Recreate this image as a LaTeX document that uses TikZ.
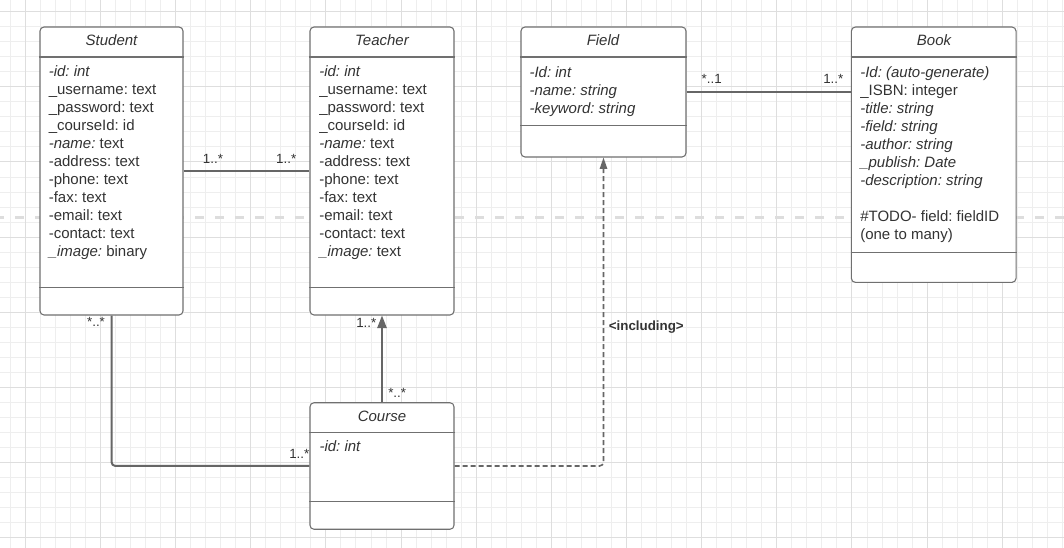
\documentclass[tikz,border=0pt]{standalone}
\usepackage{fontspec}
\setmainfont{Liberation Sans}
\usetikzlibrary{arrows.meta,positioning}
\definecolor{rand}{HTML}{707070}
\definecolor{schrift}{HTML}{333333}
\definecolor{linie}{HTML}{666666}
\definecolor{netzfein}{HTML}{EEEEEE}
\definecolor{netzgrob}{HTML}{DEDEDE}
\definecolor{seite}{HTML}{DDDDDD}

\begin{document}
\frenchspacing
\begin{tikzpicture}[x=0.75pt,y=-0.75pt,
      klasse/.style={rectangle, draw=rand, fill=white, rounded corners=3pt, line width=0.8pt, inner sep=0pt},
      titel/.style={anchor=base, inner sep=0pt, text=schrift, font=\fontsize{11.25}{13.5}\selectfont\itshape},
      attr/.style={anchor=north west, align=left, inner sep=0pt, text=schrift, font=\fontsize{11.25}{13.5}\selectfont\frenchspacing},
      trenn/.style={draw=rand, line width=0.8pt},
      mult/.style={anchor=base, inner sep=0pt, text=schrift, font=\fontsize{10}{12}\selectfont},
      verb/.style={draw=linie, line width=1.5pt, rounded corners=3pt},
      pfeil/.style={verb, -{Triangle[length=9.5pt,width=7pt]}},
      gestr/.style={draw=linie, line width=1.2pt, dash pattern=on 3.75pt off 2.25pt, rounded corners=3pt, -{Triangle[length=8.5pt,width=5.5pt]}}]

\useasboundingbox (0,0) rectangle (1064,548);
\fill[white] (0,0) rectangle (1064,548);
\foreach \i in {0,...,70} \draw[netzfein, line width=0.75pt] ({10.3+15.03*\i},0) -- ++(0,548);
\foreach \j in {0,...,36} \draw[netzfein, line width=0.75pt] (0,{11.7+15.03*\j}) -- ++(1064,0);
\foreach \i in {0,...,14} \draw[netzgrob, line width=0.75pt] ({25.3+75.15*\i},0) -- ++(0,548);
\foreach \j in {0,...,7} \draw[netzgrob, line width=0.75pt] (0,{11.7+75.15*\j}) -- ++(1064,0);
\draw[seite, line width=2.25pt, dash pattern=on 6.75pt off 8.25pt, dash phase=3.75pt] (0,217.3) -- (1064,217.3);

\node[klasse, minimum width=107.25pt, minimum height=216pt] (student) at (111.5,171) {};
\node[klasse, minimum width=108pt, minimum height=216pt] (teacher) at (382,171) {};
\node[klasse, minimum width=123.75pt, minimum height=97.5pt] (field) at (603.5,92) {};
\node[klasse, minimum width=123.5pt, minimum height=191.5pt] (book) at (933.7,154.7) {};
\node[klasse, minimum width=108pt, minimum height=94.9pt] (course) at (382,466) {};

\draw[trenn] (student.west |- 0,57) -- (student.east |- 0,57);
\draw[trenn] (student.west |- 0,287.3) -- (student.east |- 0,287.3);
\draw[trenn] (teacher.west |- 0,57) -- (teacher.east |- 0,57);
\draw[trenn] (teacher.west |- 0,287.3) -- (teacher.east |- 0,287.3);
\draw[trenn] (field.west |- 0,57) -- (field.east |- 0,57);
\draw[trenn] (field.west |- 0,125.7) -- (field.east |- 0,125.7);
\draw[trenn] (book.west |- 0,57) -- (book.east |- 0,57);
\draw[trenn] (book.west |- 0,252.3) -- (book.east |- 0,252.3);
\draw[trenn] (course.west |- 0,432.7) -- (course.east |- 0,432.7);
\draw[trenn] (course.west |- 0,501.7) -- (course.east |- 0,501.7);

\node[titel] (student-t) at (111.5,45.7) {Student};
\node[titel] (teacher-t) at (382,45.7) {Teacher};
\node[titel] (field-t) at (603,45.7) {Field};
\node[titel] (book-t) at (934,45.7) {Book};
\node[titel] (course-t) at (382,421.7) {Course};

\node[attr] (student-a) at (48.5,63.4) {\strut\textit{-id: int}\\ \_username: text\\ \_password: text\\ \_courseId: id\\ \textit{-name:} text\\ -address: text\\ -phone: text\\ -fax: text\\ -email: text\\ -contact: text\\ \textit{\_image:} binary};
\node[attr] (teacher-a) at (319,63.4) {\strut\textit{-id: int}\\ \_username: text\\ \_password: text\\ \_courseId: id\\ \textit{-name:} text\\ -address: text\\ -phone: text\\ -fax: text\\ -email: text\\ -contact: text\\ \textit{\_image:} text};
\node[attr] (field-a) at (529.3,64.9) {\strut\textit{-Id: int}\\ \textit{-name: string}\\ \textit{-keyword: string}};
\node[attr] (book-a) at (860,64.9) {\strut\textit{-Id: (auto-generate)}\\ \_ISBN: integer\\ \textit{-title: string}\\ \textit{-field: string}\\ \textit{-author: string}\\ \textit{\_publish: Date}\\ \textit{-description: string}\\ \strut\\ \#TODO- field: fieldID\\ (one to many)};
\node[attr] (course-a) at (319.3,439.1) {\strut\textit{-id: int}};

\draw[verb] (student) -- (teacher);
\draw[verb] (field.east) -- (field.east -| book.west);
\draw[verb] (student.south) |- (course.west);
\draw[pfeil] (course) -- (teacher);
\draw[gestr] (course.east) -| (field.south);

\node[mult] (m1) at (213,163.3) {1..*};
\node[mult] (m2) at (286.2,163.3) {1..*};
\node[mult] (m3) at (711.7,83.3) {*..1};
\node[mult] (m4) at (833.3,83.3) {1..*};
\node[mult] (m5) at (96,327) {*..*};
\node[mult] (m6) at (299.3,458.3) {1..*};
\node[mult] (m7) at (366.3,327.3) {1..*};
\node[mult] (m8) at (397.2,397.5) {*..*};
\node[mult, font=\fontsize{10}{12}\selectfont\bfseries] (incl) at (646.3,330.3) {\textless including\textgreater};

\end{tikzpicture}
\end{document}
